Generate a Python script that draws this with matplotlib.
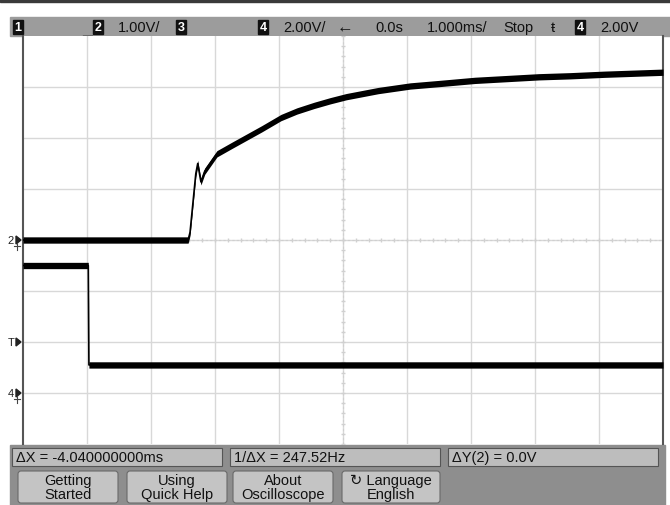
import matplotlib
matplotlib.use("Agg")
import matplotlib.pyplot as plt
from matplotlib.patches import Rectangle, FancyBboxPatch, Polygon
import numpy as np

plt.rcParams['font.family'] = ['Liberation Sans', 'DejaVu Sans']

# channel 2 trace (time in ms, volts)
ch2_t = [-5.0, -2.42, -2.39, -2.30, -2.27, -2.22, -2.16, -1.97, -1.73, -1.50,
         -1.27, -0.97, -0.72, -0.45, -0.20, 0.05, 0.55, 1.05, 1.52, 2.06,
         3.06, 3.55, 4.08, 5.0]
ch2_v = [0.0, 0.0, 0.15, 1.30, 1.50, 1.14, 1.35, 1.69, 1.86, 2.02,
         2.18, 2.40, 2.53, 2.64, 2.73, 2.81, 2.93, 3.02, 3.07, 3.13,
         3.20, 3.22, 3.25, 3.29]
# channel 4 trace
ch4_t = [-5.0, -3.98, -3.97, 5.0]
ch4_v = [5.0, 5.0, 1.1, 1.1]

ch2_scale, ch4_scale = 1.0, 2.0      # V/div
ch2_ofs, ch4_ofs = 0.0, -3.0         # ground position in div

header = [("1.00V/", 118), ("2.00V/", 283), ("\u2190", 337), ("0.0s", 375),
          ("1.000ms/", 427), ("Stop", 503), ("\u0167", 551), ("2.00V", 600)]
header_boxes = [("1", 13), ("2", 93), ("3", 176), ("4", 258), ("4", 575)]
measures = [("\u0394X = -4.040000000ms", 12, 222),
            ("1/\u0394X = 247.52Hz", 230, 440),
            ("\u0394Y(2) = 0.0V", 448, 658)]
buttons = [("Getting\nStarted", 18, 118), ("Using\nQuick Help", 127, 227),
           ("About\nOscilloscope", 233, 333), ("\u21bb Language\nEnglish", 342, 440)]

fig = plt.figure(figsize=(6.7, 5.06), dpi=100)

# frame / chrome in pixel coordinates
bg = fig.add_axes([0, 0, 1, 1])
bg.set_xlim(0, 670)
bg.set_ylim(506, 0)
bg.axis('off')
bg.add_patch(Rectangle((0, 0), 670, 3, color='#3a3a3a'))
bg.add_patch(Rectangle((10, 18), 660, 19, color='#9c9c9c'))
bg.add_patch(Rectangle((10, 446), 655, 60, color='#8e8e8e'))

for txt, x in header:
    fs = 12 if txt == "\u2190" else 10.5
    bg.text(x, 28, txt, fontsize=fs, va='center', ha='left', color='#111')
for txt, x in header_boxes:
    bg.add_patch(Rectangle((x, 21), 10, 14, color='#111'))
    bg.text(x + 5, 28, txt, fontsize=9, va='center', ha='center',
            color='white', fontweight='bold')

for txt, x0, x1 in measures:
    bg.add_patch(Rectangle((x0, 449), x1 - x0, 18, facecolor='#bdbdbd',
                           edgecolor='#555', lw=0.8))
    bg.text(x0 + 4, 458, txt, fontsize=10.5, va='center', ha='left', color='#111')

for txt, x0, x1 in buttons:
    bg.add_patch(FancyBboxPatch((x0, 472), x1 - x0, 32,
                                boxstyle="round,pad=0,rounding_size=3",
                                facecolor='#c4c4c4', edgecolor='#6a6a6a', lw=0.8))
    bg.text((x0 + x1) / 2, 488, txt, fontsize=10.5, va='center', ha='center',
            color='#111', linespacing=0.95)

# left side markers
for lbl, y in [("2", 241), ("T", 343), ("4", 394)]:
    bg.text(14, y, lbl, fontsize=8, va='center', ha='right', color='#222')
    bg.add_patch(Polygon([[16, y - 4], [21, y], [16, y + 4]], color='#222'))
for y in [247, 400]:
    bg.plot([14, 20], [y, y], color='#444', lw=0.8)
    bg.plot([17, 17], [y - 3, y + 4], color='#444', lw=0.8)
# trigger position marker
bg.add_patch(Polygon([[83, 37], [93, 37], [88, 43]], color='#555', zorder=5))

# graticule
ax = fig.add_axes([23 / 670, 1 - 445 / 506, 640 / 670, 408 / 506])
ax.set_xlim(-5, 5)
ax.set_ylim(-4, 4)
ax.set_xticks([])
ax.set_yticks([])
for v in range(-4, 5):
    ax.axvline(v, color='#d8d8d8', lw=1, zorder=0)
for h in range(-3, 4):
    ax.axhline(h, color='#d8d8d8', lw=1, zorder=0)
ax.axvline(0, color='#cfcfcf', lw=0.8, ls=(0, (2, 2)), zorder=0)
ax.axhline(0, color='#cfcfcf', lw=0.8, ls=(0, (2, 2)), zorder=0)
minor = np.arange(-5, 5.01, 0.2)
ax.plot(minor, np.zeros_like(minor), '|', color='#d0d0d0', ms=3, zorder=0)
minor_y = np.arange(-4, 4.01, 0.2)
ax.plot(np.zeros_like(minor_y), minor_y, '_', color='#d0d0d0', ms=3, zorder=0)
for s in ['top', 'bottom']:
    ax.spines[s].set_visible(False)
for s in ['left', 'right']:
    ax.spines[s].set_color('#555')
    ax.spines[s].set_linewidth(1.5)

# traces
half = 0.062
for t, v, sc, ofs in [(ch2_t, ch2_v, ch2_scale, ch2_ofs),
                      (ch4_t, ch4_v, ch4_scale, ch4_ofs)]:
    y = np.array(v) / sc + ofs
    ax.fill_between(t, y - half, y + half, color='black', lw=0, zorder=3)
    ax.plot(t, y, color='black', lw=1.2, zorder=3)

fig.savefig("out.png", dpi=100)
